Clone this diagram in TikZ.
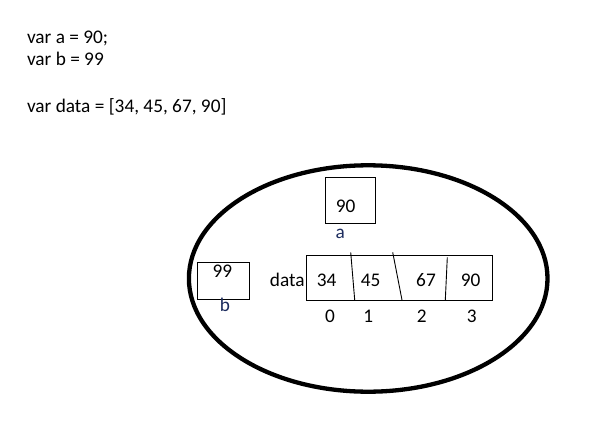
\documentclass[tikz,border=0pt]{standalone}
\usepackage{fontspec}
\setmainfont{Carlito}
\usetikzlibrary{shapes.geometric}
\definecolor{lblblue}{RGB}{30,45,95}
\begin{document}
\begin{tikzpicture}[x=1pt,y=-1pt,
  txt/.style={inner sep=0pt,outer sep=0pt,font=\fontsize{19.3}{23}\selectfont,text=black},
  lbl/.style={txt,text=lblblue},
  cell/.style={draw=black,line width=0.9pt,inner sep=0pt,outer sep=0pt},
  divider/.style={draw=black,line width=0.9pt},
  heap/.style={draw=black,line width=4.3pt}]
\useasboundingbox (0,0) rectangle (596,441);
\fill[white] (0,0) rectangle (596,441);
% code lines
\node[txt,anchor=base west] (l1) at (27,43.5) {var a = 90;};
\node[txt,anchor=base west] (l2) at (27,66) {var b = 99};
\node[txt,anchor=base west] (l3) at (27,113) {var data = [34, 45, 67, 90]};
% memory ellipse
\node[heap,ellipse,minimum width=358.6,minimum height=226.4,inner sep=0pt] (mem) at (368.2,278.5) {};
% box a
\node[cell,minimum width=49.6,minimum height=46] (boxa) at (350.5,200.3) {};
\node[txt,anchor=base] (va) at (345.7,212.7) {90};
\node[lbl,anchor=base] (la) at (340.3,238.3) {a};
% box b
\node[cell,minimum width=52,minimum height=37] (boxb) at (223.3,280.8) {};
\node[txt,anchor=base] (vb) at (222.3,277.3) {99};
\node[lbl,anchor=base] (lb) at (225,311.7) {b};
% data array
\node[cell,minimum width=186,minimum height=44.7] (arr) at (399.3,277.65) {};
\coordinate (d1t) at (350.7,252.3); \coordinate (d1b) at (354.7,300);
\coordinate (d2t) at (392.7,252.3); \coordinate (d2b) at (402,300);
\coordinate (d3t) at (447.3,257.3); \coordinate (d3b) at (445.3,300);
\draw[divider] (d1t) -- (d1b);
\draw[divider] (d2t) -- (d2b);
\draw[divider] (d3t) -- (d3b);
\node[txt,anchor=base] (ldata) at (287.3,286) {data};
\node[txt,anchor=base] (e0) at (326.7,286) {34};
\node[txt,anchor=base] (e1) at (370.7,286) {45};
\node[txt,anchor=base] (e2) at (426,286) {67};
\node[txt,anchor=base] (e3) at (470.7,286) {90};
\node[txt,anchor=base] (i0) at (330,322.7) {0};
\node[txt,anchor=base] (i1) at (368.3,322.7) {1};
\node[txt,anchor=base] (i2) at (421.7,322.7) {2};
\node[txt,anchor=base] (i3) at (471.7,322.7) {3};
\end{tikzpicture}
\end{document}
